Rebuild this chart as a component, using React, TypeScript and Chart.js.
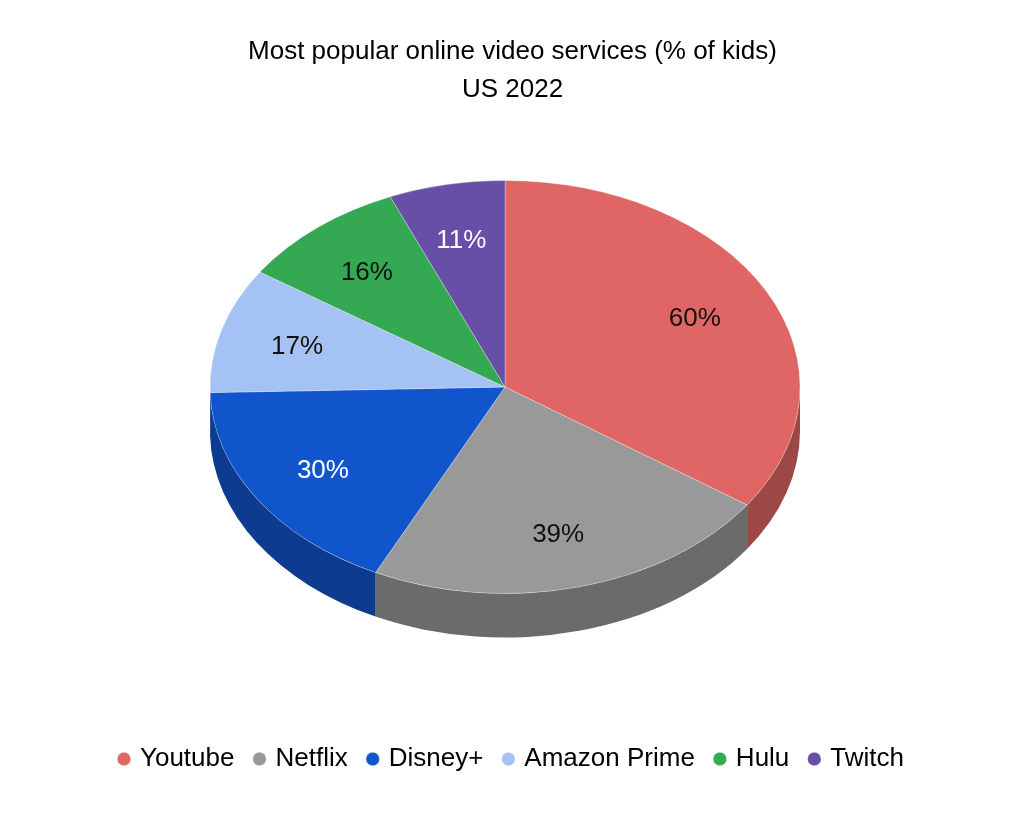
import { useEffect, useRef } from "react";
import { Chart, registerables } from "chart.js";

Chart.register(...registerables);

// Data (Google Sheets 3D pie)
const services = ["Youtube", "Netflix", "Disney+", "Amazon Prime", "Hulu", "Twitch"];
const kidsPercent = [60, 39, 30, 17, 16, 11];
const sliceColors = ["#E06666", "#999999", "#1155CC", "#A4C2F4", "#34A853", "#674EA7"];
const labelColors = ["#111111", "#111111", "#FFFFFF", "#111111", "#111111", "#FFFFFF"];
const titleLines = ["Most popular online video services (% of kids)", "US 2022"];

const FONT = "'Liberation Sans', Arial, sans-serif";

// darken a hex colour for the side walls
function shade(hex: string, f: number) {
  const n = parseInt(hex.slice(1), 16);
  const r = Math.round(((n >> 16) & 255) * f);
  const g = Math.round(((n >> 8) & 255) * f);
  const b = Math.round((n & 255) * f);
  return `rgb(${r},${g},${b})`;
}

const sideColors = sliceColors.map((c) => shade(c, 0.7));

// squashes the pie into an ellipse and draws the visible side wall + labels
const pie3d = {
  id: "pie3d",
  beforeDatasetsDraw(chart: any, _args: any, opts: any) {
    const arcs = chart.getDatasetMeta(0).data as any[];
    if (!arcs.length) return;
    const ctx = chart.ctx as CanvasRenderingContext2D;
    const { x, y, outerRadius } = arcs[0].getProps(["x", "y", "outerRadius"], true);
    const { centerX: cx, centerY: cy, tilt: k, depth: d } = opts;
    const rx = outerRadius;
    const ry = outerRadius * k;

    ctx.save();
    arcs.forEach((arc, i) => {
      const { startAngle, endAngle } = arc.getProps(["startAngle", "endAngle"], true);
      const s = Math.max(startAngle, 0);
      const e = Math.min(endAngle, Math.PI);
      if (s >= e) return;
      ctx.beginPath();
      ctx.ellipse(cx, cy, rx, ry, 0, s, e);
      ctx.lineTo(cx + rx * Math.cos(e), cy + ry * Math.sin(e) + d);
      ctx.ellipse(cx, cy + d, rx, ry, 0, e, s, true);
      ctx.closePath();
      ctx.fillStyle = sideColors[i];
      ctx.fill();
    });
    ctx.restore();

    ctx.save();
    ctx.translate(cx, cy);
    ctx.scale(1, k);
    ctx.translate(-x, -y);
  },
  afterDatasetsDraw(chart: any, _args: any, opts: any) {
    const ctx = chart.ctx as CanvasRenderingContext2D;
    ctx.restore();
    const arcs = chart.getDatasetMeta(0).data as any[];
    const { centerX: cx, centerY: cy, tilt: k } = opts;
    ctx.save();
    ctx.font = `26px ${FONT}`;
    ctx.textAlign = "center";
    ctx.textBaseline = "middle";
    arcs.forEach((arc, i) => {
      const { startAngle, endAngle, outerRadius } = arc.getProps(
        ["startAngle", "endAngle", "outerRadius"],
        true
      );
      const mid = (startAngle + endAngle) / 2;
      const r = outerRadius * 0.73;
      ctx.fillStyle = labelColors[i];
      ctx.fillText(
        `${kidsPercent[i]}%`,
        cx + r * Math.cos(mid) - 1,
        cy + r * k * Math.sin(mid) + 2
      );
    });
    ctx.restore();
  },
};

export default function App() {
  const canvasRef = useRef<HTMLCanvasElement>(null);

  useEffect(() => {
    if (!canvasRef.current) return;
    const chart = new Chart(canvasRef.current, {
      type: "pie",
      data: {
        labels: services,
        datasets: [
          {
            data: kidsPercent,
            backgroundColor: sliceColors,
            borderColor: "rgba(255,255,255,0.35)",
            borderWidth: 1,
            clip: false,
          },
        ],
      },
      options: {
        responsive: true,
        maintainAspectRatio: false,
        animation: false,
        events: [],
        radius: 295,
        layout: { padding: { left: 0, right: 5, top: 0, bottom: 37 } },
        plugins: {
          title: {
            display: true,
            text: titleLines,
            color: "#000000",
            font: { size: 26, family: FONT, weight: "normal", lineHeight: 1.46 },
            padding: { top: 33, bottom: 10 },
          },
          legend: {
            position: "bottom",
            labels: {
              usePointStyle: true,
              pointStyle: "circle",
              boxWidth: 6,
              boxHeight: 9.6,
              padding: 22,
              color: "#000000",
              font: { size: 26, family: FONT },
            },
          },
          tooltip: { enabled: false },
          pie3d: { centerX: 505, centerY: 387, tilt: 0.7, depth: 44 },
        } as any,
      },
      plugins: [pie3d],
    });
    return () => chart.destroy();
  }, []);

  return (
    <div
      style={{
        position: "absolute",
        left: 0,
        top: 0,
        width: 1030,
        height: 819,
        background: "#ffffff",
      }}
    >
      <canvas ref={canvasRef} />
    </div>
  );
}
